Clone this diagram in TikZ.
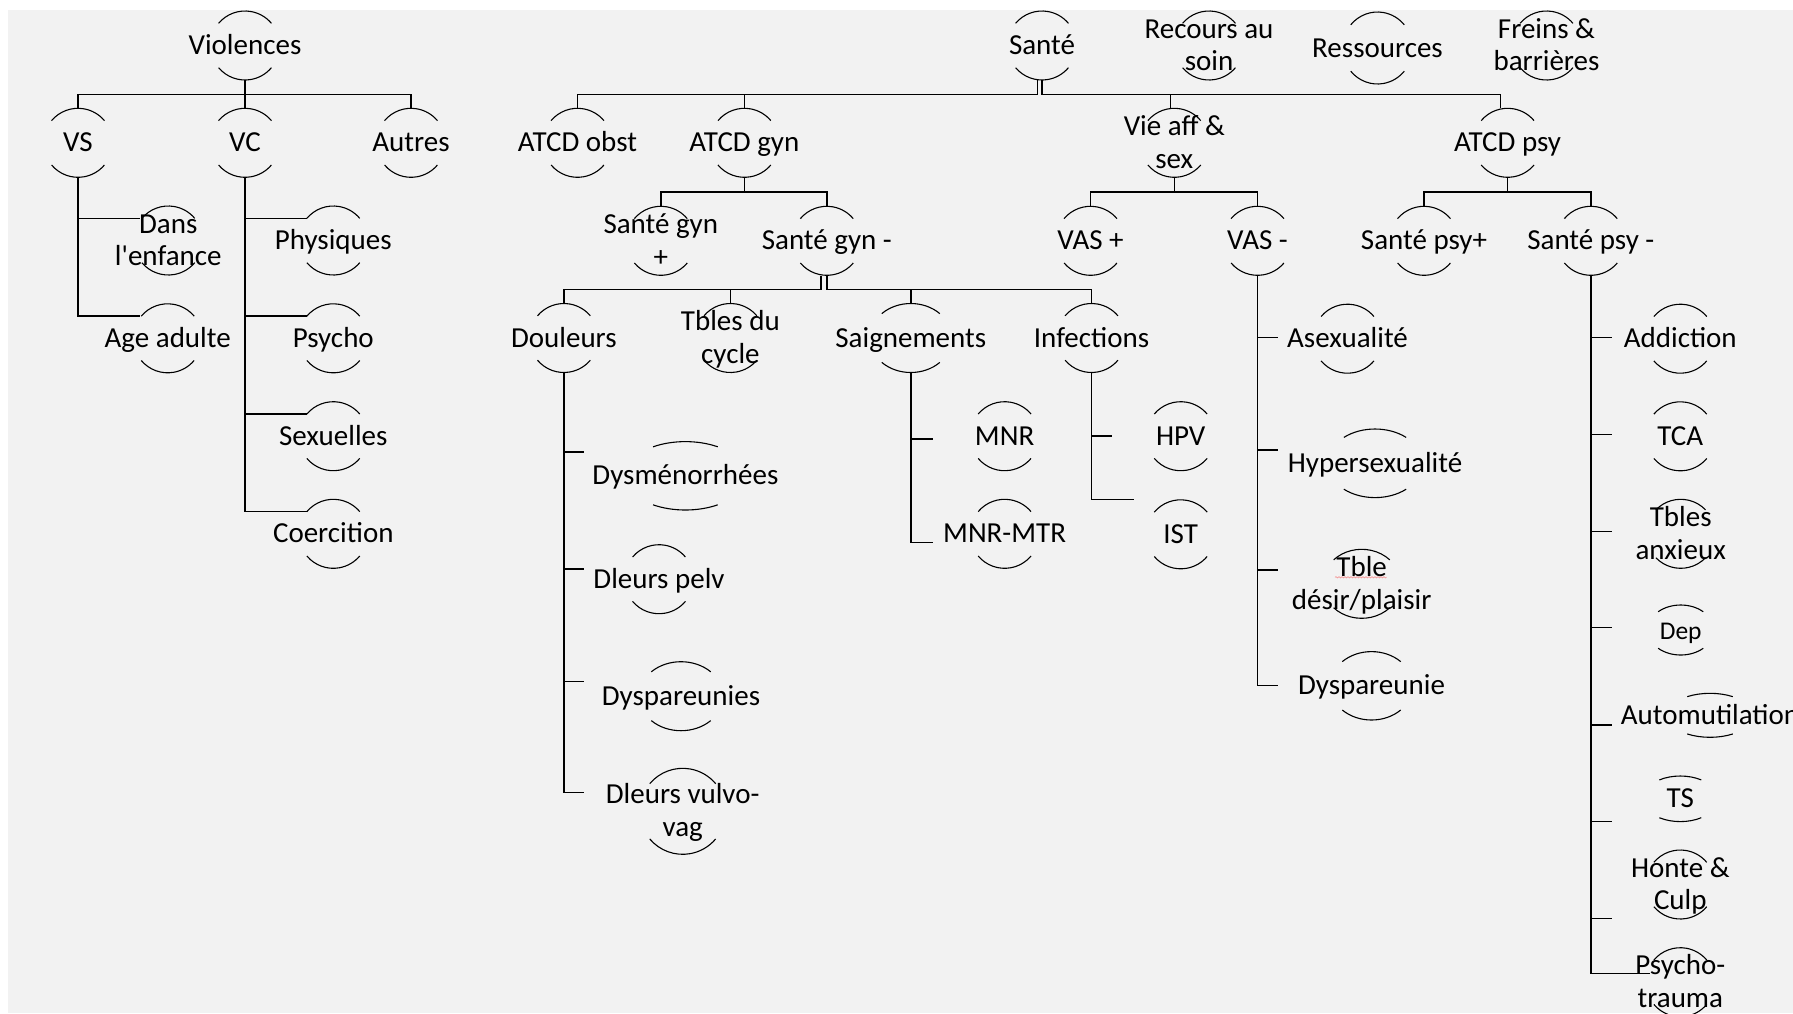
\documentclass[tikz,border=0pt]{standalone}
\usepackage{fontspec}
\setmainfont{Carlito}
\usepackage{tikz}
\usetikzlibrary{decorations.pathmorphing}

\definecolor{pagegray}{HTML}{F2F2F2}
\definecolor{squiggle}{HTML}{F2A0A0}

\newcommand{\bubfont}{\fontsize{29}{32.7}\selectfont}
\newcommand{\lnstrut}{\rule[-7pt]{0pt}{32pt}}
% two open arcs (top and bottom) round a node
\newcommand{\bubarcs}[4]{%
  \pgfmathsetmacro{\angl}{180-#4}\pgfmathsetmacro{\angr}{180+#4}\pgfmathsetmacro{\ange}{360-#4}%
  \draw[arcline] ([shift={(\angl:#2 and #3)}]#1.center) arc[start angle=\angl, end angle=#4, x radius=#2, y radius=#3]
    ([shift={(\angr:#2 and #3)}]#1.center) arc[start angle=\angr, end angle=\ange, x radius=#2, y radius=#3];}
\newcommand{\bubring}[1]{\bubarcs{#1}{34.5}{34.5}{40}}

\tikzstyle{bub} = [inner sep=0pt, minimum height=69pt, align=center,
    font=\bubfont, execute at begin node=\lnstrut]
\tikzstyle{arcline} = [line width=1.1pt]
\tikzstyle{link} = [line width=1.5pt]

\begin{document}
\begin{tikzpicture}[x=1pt, y=1pt]
\useasboundingbox (0,0) rectangle (1793,-1013);
\fill[white] (0,0) rectangle (1793,-1013);
\fill[pagegray] (8,-10) rectangle (1793,-1013);

% top row
\node[bub] (viol) at (245,-45.5) {Violences}; \bubring{viol}
\node[bub] (sante) at (1042,-45.5) {Santé}; \bubring{sante}
\node[bub] (recours) at (1209,-45.5) {\lnstrut Recours au\\soin}; \bubring{recours}
\node[bub, minimum height=72pt] (ress) at (1377.5,-48) {Ressources}; \bubarcs{ress}{35}{36}{40}
\node[bub] (freins) at (1546.5,-45.5) {\lnstrut Freins \&\\barrières}; \bubring{freins}

% level 1
\node[bub] (vs) at (78,-142.8) {VS}; \bubring{vs}
\node[bub] (vc) at (245,-142.8) {VC}; \bubring{vc}
\node[bub] (autres) at (411,-142.8) {Autres}; \bubring{autres}
\node[bub] (obst) at (577.5,-142.8) {ATCD obst}; \bubring{obst}
\node[bub] (gyn) at (744.4,-142.8) {ATCD gyn}; \bubring{gyn}
\node[bub] (vie) at (1174.3,-142.8) {\lnstrut Vie aff \&\\sex}; \bubring{vie}
\node[bub] (psy) at (1507.6,-142.8) {ATCD psy}; \bubring{psy}

% level 2
\node[bub] (dans) at (168.3,-240.5) {\lnstrut Dans\\l\textquotesingle enfance}; \bubring{dans}
\node[bub] (phys) at (333.3,-240.5) {Physiques}; \bubring{phys}
\node[bub] (gynp) at (660.8,-240.8) {\lnstrut Santé gyn\\+}; \bubring{gynp}
\node[bub] (gynm) at (826.8,-240.8) {Santé gyn -}; \bubring{gynm}
\node[bub] (vasp) at (1090.5,-240.8) {VAS +}; \bubring{vasp}
\node[bub] (vasm) at (1257.5,-240.8) {VAS -}; \bubring{vasm}
\node[bub] (psyp) at (1424,-240.8) {Santé psy+}; \bubring{psyp}
\node[bub] (psym) at (1590.8,-240.8) {Santé psy -}; \bubring{psym}

% level 3
\node[bub] (age) at (167.7,-338.3) {Age adulte}; \bubring{age}
\node[bub] (psycho) at (333.3,-338.3) {Psycho}; \bubring{psycho}
\node[bub] (doul) at (563.9,-338) {Douleurs}; \bubring{doul}
\node[bub] (cycle) at (730.4,-338) {\lnstrut Tbles du\\cycle}; \bubring{cycle}
\node[bub] (saign) at (910.8,-338) {Saignements}; \bubarcs{saign}{41}{34.5}{45}
\node[bub] (infec) at (1091.5,-338) {Infections}; \bubring{infec}
\node[bub] (asex) at (1347.5,-338.7) {Asexualité}; \bubring{asex}
\node[bub] (addic) at (1680.3,-338.7) {Addiction}; \bubring{addic}

% lower lists
\node[bub] (sexu) at (333.3,-436.2) {Sexuelles}; \bubring{sexu}
\node[bub] (coer) at (333.3,-533.8) {Coercition}; \bubring{coer}
\node[bub] (dysm) at (685.4,-475.8) {Dysménorrhées}; \bubarcs{dysm}{61}{34.2}{58}
\node[bub] (pelv) at (659,-579.2) {Dleurs pelv}; \bubring{pelv}
\node[bub] (dyspa) at (681,-696.2) {Dyspareunies}; \bubarcs{dyspa}{42}{34.5}{45}
\node[bub, minimum height=86pt] (vulvo) at (682.7,-811.3) {\lnstrut Dleurs vulvo-\\vag}; \bubarcs{vulvo}{43}{43}{40}
\node[bub] (mnr) at (1004.6,-436.2) {MNR}; \bubring{mnr}
\node[bub] (mtr) at (1004.6,-533.8) {MNR-MTR}; \bubring{mtr}
\node[bub] (hpv) at (1180.7,-436.2) {HPV}; \bubring{hpv}
\node[bub] (ist) at (1180.7,-534.3) {IST}; \bubring{ist}
\node[bub] (hyper) at (1375,-463.3) {Hypersexualité}; \bubarcs{hyper}{47.5}{34.3}{49}
\node[bub] (desir) at (1361.7,-583.8) {\lnstrut Tble\\désir/plaisir}; \bubarcs{desir}{39}{34.5}{44}
\node[bub] (dysp) at (1371.5,-685.8) {Dyspareunie}; \bubarcs{dysp}{41.3}{34.2}{45}
\node[bub] (tca) at (1680.3,-436.3) {TCA}; \bubring{tca}
\node[bub] (anx) at (1680.7,-533.8) {\lnstrut Tbles\\anxieux}; \bubarcs{anx}{34.5}{34.5}{44}
\node[bub, minimum height=50pt, font=\fontsize{25.5}{29}\selectfont] (dep) at (1680.7,-630) {Dep}; \bubarcs{dep}{33}{25}{47}
\node[bub, minimum height=44pt] (auto) at (1710,-715.3) {Automutilation}; \bubarcs{auto}{43}{22}{58}
\node[bub, minimum height=45.6pt] (ts) at (1680.3,-798.8) {TS}; \bubarcs{ts}{37.5}{22.8}{56}
\node[bub] (honte) at (1680.3,-884.5) {\lnstrut Honte \&\\Culp}; \bubring{honte}
\node[bub] (trauma) at (1680.3,-982.2) {\lnstrut Psycho-\\trauma}; \bubring{trauma}

\draw[squiggle, line width=0.8pt, decorate, decoration={snake, amplitude=0.6pt, segment length=3pt}]
    ([shift={(-26.7,6.5)}]desir.center) -- ([shift={(25,6.5)}]desir.center);

% ends of the side branches
\coordinate (dans-in) at (140,-218.3);
\coordinate (age-in) at (140,-316);
\coordinate (phys-in) at (306.7,-218.3);
\coordinate (psycho-in) at (306.7,-316);
\coordinate (sexu-in) at (306.7,-414);
\coordinate (coer-in) at (306.7,-511.7);
\coordinate (dysm-in) at (584,-452);
\coordinate (pelv-in) at (584,-569);
\coordinate (dyspa-in) at (584,-681.6);
\coordinate (vulvo-in) at (584,-792.6);
\coordinate (mnr-in) at (933,-439);
\coordinate (mtr-in) at (933,-542.7);
\coordinate (hpv-in) at (1111.7,-436);
\coordinate (ist-in) at (1134,-499.3);
\coordinate (asex-in) at (1278.3,-337.3);
\coordinate (hyper-in) at (1278.3,-450);
\coordinate (desir-in) at (1278.3,-570);
\coordinate (dysp-in) at (1278.3,-685.7);
\coordinate (addic-in) at (1611.7,-337.7);
\coordinate (tca-in) at (1611.7,-434.3);
\coordinate (anx-in) at (1611.7,-531.7);
\coordinate (dep-in) at (1611.7,-627.7);
\coordinate (auto-in) at (1611.7,-725);
\coordinate (ts-in) at (1611.7,-821.7);
\coordinate (honte-in) at (1611.7,-918.3);
\coordinate (trauma-in) at (1650,-973.3);

% buses
\draw[link] (viol.south) -- ++(0,-14.3) -| (vs.north)
            (viol.south) -- ++(0,-14.3) -| (autres.north)
            (viol.south) -- (vc.north);
\draw[link] ([xshift=-4.5pt]sante.south) -- ++(0,-14.3) -| (obst.north)
            ([xshift=-4.5pt]sante.south) -- ++(0,-14.3) -| (gyn.north)
            (sante.south) -- ++(0,-14.3) -| ([xshift=-3.6pt]vie.north)
            (sante.south) -- ++(0,-14.3) -| ([xshift=-7pt]psy.north);
\draw[link] (gyn.south) -- ++(0,-14.4) -| (gynp.north)
            (gyn.south) -- ++(0,-14.4) -| (gynm.north);
\draw[link] (vie.south) -- ++(0,-14.4) -| (vasp.north)
            (vie.south) -- ++(0,-14.4) -| (vasm.north);
\draw[link] (psy.south) -- ++(0,-14.4) -| (psyp.north)
            (psy.south) -- ++(0,-14.4) -| (psym.north);
\draw[link] ([xshift=-6pt]gynm.south) -- ++(0,-14) -| (doul.north)
            ([xshift=-6pt]gynm.south) -- ++(0,-14) -| (cycle.north)
            (gynm.south) -- ++(0,-14) -| (saign.north)
            (gynm.south) -- ++(0,-14) -| (infec.north);

% hanging lists
\draw[link] (vs.south) |- (age-in) (vs.south |- dans-in) -- (dans-in);
\draw[link] (vc.south) |- (coer-in) (vc.south |- phys-in) -- (phys-in)
            (vc.south |- psycho-in) -- (psycho-in) (vc.south |- sexu-in) -- (sexu-in);
\draw[link] (doul.south) |- (vulvo-in) (doul.south |- dysm-in) -- (dysm-in)
            (doul.south |- pelv-in) -- (pelv-in) (doul.south |- dyspa-in) -- (dyspa-in);
\draw[link] (saign.south) |- (mtr-in) (saign.south |- mnr-in) -- (mnr-in);
\draw[link] (infec.south) |- (ist-in) (infec.south |- hpv-in) -- (hpv-in);
\draw[link] (vasm.south) |- (dysp-in) (vasm.south |- asex-in) -- (asex-in)
            (vasm.south |- hyper-in) -- (hyper-in) (vasm.south |- desir-in) -- (desir-in);
\draw[link] (psym.south) |- (trauma-in) (psym.south |- addic-in) -- (addic-in)
            (psym.south |- tca-in) -- (tca-in) (psym.south |- anx-in) -- (anx-in)
            (psym.south |- dep-in) -- (dep-in) (psym.south |- auto-in) -- (auto-in)
            (psym.south |- ts-in) -- (ts-in) (psym.south |- honte-in) -- (honte-in);
\end{tikzpicture}
\end{document}
